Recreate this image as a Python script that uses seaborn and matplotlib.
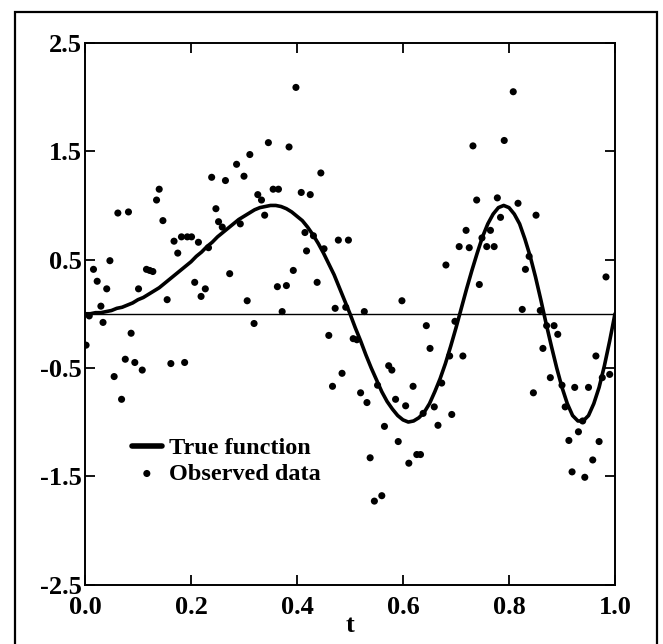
import numpy as np
import pandas as pd
import seaborn as sns
import matplotlib
import matplotlib.pyplot as plt
import matplotlib.patches as mpatches

matplotlib.use("Agg")

t_obs = [0.002, 0.008, 0.016, 0.023, 0.030, 0.034, 0.041, 0.047, 0.055, 0.062,
         0.069, 0.076, 0.082, 0.087, 0.094, 0.101, 0.108, 0.116, 0.122, 0.128,
         0.135, 0.140, 0.147, 0.155, 0.162, 0.168, 0.175, 0.182, 0.188, 0.193,
         0.201, 0.207, 0.214, 0.219, 0.227, 0.233, 0.239, 0.247, 0.252, 0.259,
         0.265, 0.273, 0.286, 0.293, 0.300, 0.306, 0.311, 0.319, 0.326, 0.333,
         0.339, 0.346, 0.355, 0.363, 0.365, 0.372, 0.380, 0.385, 0.393, 0.398,
         0.408, 0.415, 0.418, 0.425, 0.431, 0.438, 0.445, 0.451, 0.460, 0.467,
         0.472, 0.478, 0.485, 0.492, 0.497, 0.506, 0.513, 0.520, 0.527, 0.532,
         0.538, 0.546, 0.552, 0.560, 0.565, 0.573, 0.579, 0.586, 0.591, 0.598,
         0.605, 0.611, 0.619, 0.626, 0.633, 0.638, 0.644, 0.651, 0.659, 0.666,
         0.673, 0.681, 0.688, 0.692, 0.698, 0.706, 0.713, 0.719, 0.725, 0.732,
         0.739, 0.744, 0.749, 0.758, 0.765, 0.772, 0.778, 0.784, 0.791, 0.808,
         0.817, 0.825, 0.831, 0.838, 0.846, 0.851, 0.859, 0.864, 0.871, 0.878,
         0.885, 0.892, 0.900, 0.906, 0.913, 0.919, 0.924, 0.931, 0.939, 0.943,
         0.950, 0.958, 0.964, 0.970, 0.976, 0.983, 0.990]
y_obs = [-0.29, -0.02, 0.41, 0.30, 0.07, -0.08, 0.23, 0.49, -0.58, 0.93,
         -0.79, -0.42, 0.94, -0.18, -0.45, 0.23, -0.52, 0.41, 0.40, 0.39,
         1.05, 1.15, 0.86, 0.13, -0.46, 0.67, 0.56, 0.71, -0.45, 0.71,
         0.71, 0.29, 0.66, 0.16, 0.23, 0.61, 1.26, 0.97, 0.85, 0.80,
         1.23, 0.37, 1.38, 0.83, 1.27, 0.12, 1.47, -0.09, 1.10, 1.05,
         0.91, 1.58, 1.15, 0.25, 1.15, 0.02, 0.26, 1.54, 0.40, 2.09,
         1.12, 0.75, 0.58, 1.10, 0.72, 0.29, 1.30, 0.60, -0.20, -0.67,
         0.05, 0.68, -0.55, 0.06, 0.68, -0.23, -0.24, -0.73, 0.02, -0.82,
         -1.33, -1.73, -0.66, -1.68, -1.04, -0.48, -0.52, -0.79, -1.18, 0.12,
         -0.85, -1.38, -0.67, -1.30, -1.30, -0.92, -0.11, -0.32, -0.86, -1.03,
         -0.64, 0.45, -0.39, -0.93, -0.07, 0.62, -0.39, 0.77, 0.61, 1.55,
         1.05, 0.27, 0.70, 0.62, 0.77, 0.62, 1.07, 0.89, 1.60, 2.05,
         1.02, 0.04, 0.41, 0.53, -0.73, 0.91, 0.03, -0.32, -0.11, -0.59,
         -0.11, -0.19, -0.66, -0.86, -1.17, -1.46, -0.68, -1.09, -0.99, -1.51,
         -0.68, -1.35, -0.39, -1.18, -0.59, 0.34, -0.56]

# true function, every 0.01 in t
t_true = np.linspace(0.0, 1.0, 101)
y_true = [0.00, 0.00, 0.01, 0.01, 0.02, 0.03, 0.05, 0.06, 0.08, 0.10,
          0.13, 0.15, 0.18, 0.21, 0.24, 0.28, 0.32, 0.36, 0.40, 0.44,
          0.48, 0.53, 0.57, 0.62, 0.66, 0.71, 0.75, 0.79, 0.83, 0.87,
          0.90, 0.93, 0.96, 0.98, 0.99, 1.00, 1.00, 0.99, 0.97, 0.94,
          0.90, 0.86, 0.80, 0.73, 0.65, 0.56, 0.46, 0.36, 0.24, 0.12,
          0.00, -0.13, -0.25, -0.38, -0.50, -0.61, -0.72, -0.81, -0.88, -0.94,
          -0.98, -1.00, -0.99, -0.96, -0.91, -0.83, -0.72, -0.60, -0.46, -0.30,
          -0.13, 0.05, 0.23, 0.40, 0.56, 0.71, 0.83, 0.92, 0.98, 1.00,
          0.98, 0.92, 0.83, 0.69, 0.53, 0.34, 0.13, -0.09, -0.30, -0.50,
          -0.68, -0.83, -0.94, -0.99, -0.99, -0.94, -0.83, -0.68, -0.48, -0.25,
          0.00]

x_ticks = [0.0, 0.2, 0.4, 0.6, 0.8, 1.0]
x_labels = ["0.0", "0.2", "0.4", "0.6", "0.8", "1.0"]
y_ticks = [2.5, 1.5, 0.5, -0.5, -1.5, -2.5]
y_labels = ["2.5", "1.5", "0.5", "-0.5", "-1.5", "-2.5"]

sns.set_theme(style="ticks")
plt.rcParams["font.family"] = ["Liberation Serif", "DejaVu Serif"]
plt.rcParams["font.weight"] = "bold"
plt.rcParams["text.color"] = "black"
plt.rcParams["axes.labelcolor"] = "black"

fig = plt.figure(figsize=(6.63, 6.44), dpi=100)
ax = fig.add_axes([85 / 663, 1 - 584.5 / 644, 530 / 663, 541.5 / 644])

obs_df = pd.DataFrame({"t": t_obs, "y": y_obs})
true_df = pd.DataFrame({"t": t_true, "y": y_true})

# thin zero line
ax.axhline(0, color="black", lw=1.0, zorder=1)
sns.lineplot(data=true_df, x="t", y="y", ax=ax, color="black", lw=2.6,
             label="True function", zorder=3)
sns.scatterplot(data=obs_df, x="t", y="y", ax=ax, color="black", s=26,
                edgecolor="none", label="Observed data", zorder=4)

ax.set_xlim(0, 1)
ax.set_ylim(-2.5, 2.5)
ax.set_xticks(x_ticks)
ax.set_xticklabels(x_labels)
ax.set_yticks(y_ticks)
ax.set_yticklabels(y_labels)
ax.tick_params(direction="in", length=7, width=1.3, top=True, right=True,
               labelsize=19, color="black", labelcolor="black")
ax.tick_params(axis="x", pad=8)
ax.tick_params(axis="y", pad=2)
for lab in ax.get_xticklabels() + ax.get_yticklabels():
    lab.set_fontweight("bold")
for sp in ax.spines.values():
    sp.set_linewidth(1.4)
    sp.set_color("black")

ax.set_xlabel("t", fontsize=19, fontweight="bold", labelpad=-3, color="black")
ax.set_ylabel("")

leg = ax.legend(loc="center left", bbox_to_anchor=(0.088, 0.228), frameon=False,
                handlelength=1.25, handletextpad=0.3,
                labelspacing=0.15, borderpad=0, borderaxespad=0,
                prop={"weight": "bold", "size": 17.5})
for txt in leg.get_texts():
    txt.set_color("black")
for h in leg.legend_handles:
    if hasattr(h, "set_linewidth"):
        h.set_linewidth(4)

# frame round the whole figure
frame = mpatches.Rectangle((15 / 663, -0.05), 642 / 663, 1.05 - 12 / 644,
                           transform=fig.transFigure, fill=False,
                           edgecolor="black", lw=1.6)
fig.patches.append(frame)

fig.savefig("out.png", dpi=100)
